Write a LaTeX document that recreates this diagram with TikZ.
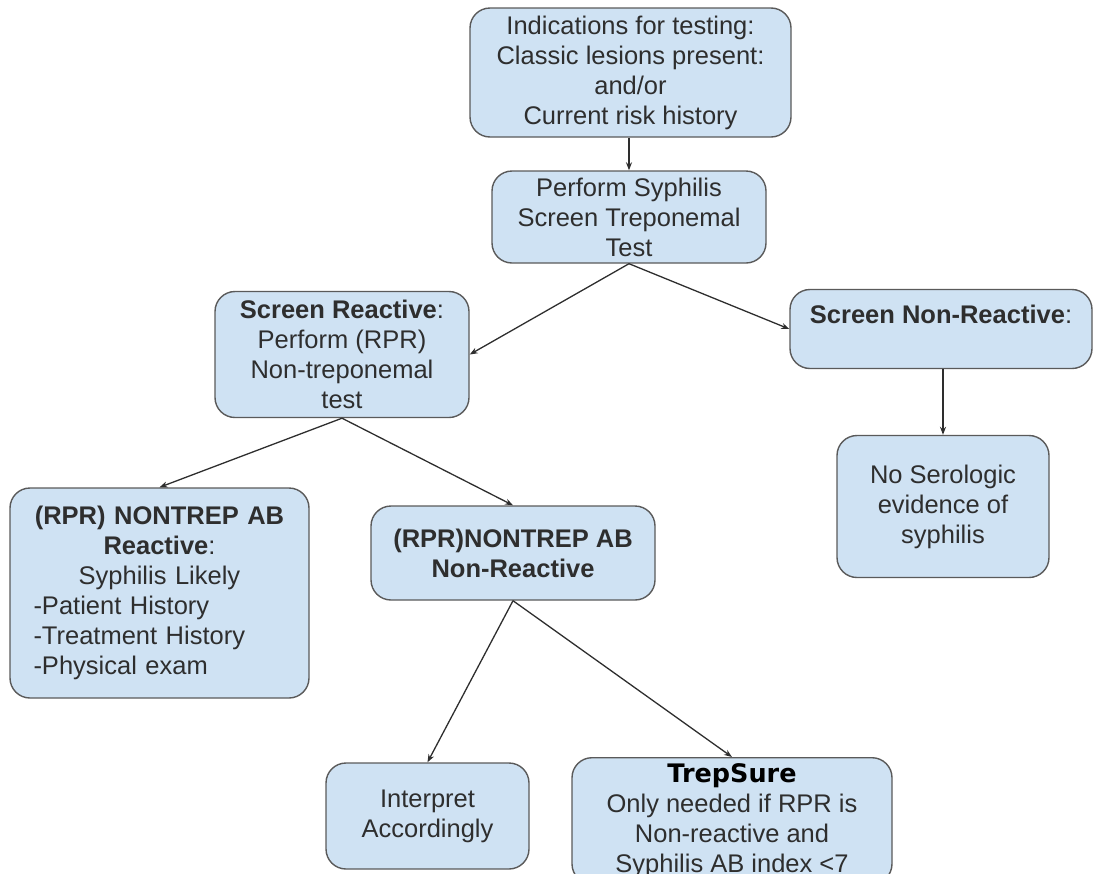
\documentclass[tikz,border=0pt]{standalone}
\usepackage{fontspec}
\setmainfont{Liberation Sans}
\newfontfamily\trepfont{DejaVu Sans}
\usepackage{xcolor}
\usepackage{tikz}
\usetikzlibrary{arrows.meta}
\definecolor{cardfill}{HTML}{CFE2F3}
\definecolor{cardline}{HTML}{5A5A5A}
\definecolor{ink}    {HTML}{2E2E2E}

\begin{document}
\begin{tikzpicture}[
  x=1pt, y=-1pt,
  % one pixel of the sheet is one point here, so the boxes are sized in pixels
  card/.style={
    draw=cardline, fill=cardfill, rounded corners=20pt, line width=1.4pt,
    align=center, text=ink, inner sep=0pt,
    font=\fontsize{25.5}{30}\selectfont
  },
  flow/.style={-{Stealth[length=8pt,width=6pt]}, line width=1.3pt, draw=ink}
]
\clip (0,0) rectangle (1095,873);

% --- screening column --------------------------------------------------------
\node[card, minimum width=321pt, minimum height=129pt] (ind) at (630.5,72.5)
  {Indications for testing:\\ Classic lesions present:\\ and/or\\ Current risk history};
\node[card, minimum width=274pt, minimum height=92pt] (perf) at (629,217)
  {Perform Syphilis\\ Screen Treponemal\\ Test};

% --- screen results ----------------------------------------------------------
\node[card, minimum width=254pt, minimum height=126pt] (sr) at (342,354.5)
  {\textbf{Screen Reactive}:\\ Perform (RPR)\\ Non-treponemal\\ test};
\node[card, minimum width=302pt, minimum height=79pt] (snr) at (941,329)
  {\textbf{Screen Non-Reactive}:\\ \mbox{}};
\node[card, minimum width=212pt, minimum height=142pt] (nose) at (943,506.5)
  {No Serologic\\ evidence of\\ syphilis};

% --- RPR results -------------------------------------------------------------
\node[card, minimum width=299pt, minimum height=210pt, text width=252pt,
      align=left] (rprr) at (159.5,593)
  {\makebox[\linewidth]{\textbf{(RPR) NONTREP AB}}\\
   \makebox[\linewidth]{\textbf{Reactive}:}\\
   \makebox[\linewidth]{Syphilis Likely}\\
   -Patient History\\ -Treatment History\\ -Physical exam};
\node[card, minimum width=284pt, minimum height=94pt] (rprn) at (513,553)
  {\textbf{(RPR)NONTREP AB}\\ \textbf{Non-Reactive}};

% --- follow-up ---------------------------------------------------------------
\node[card, minimum width=203pt, minimum height=106pt] (interp) at (427.5,816)
  {Interpret\\ Accordingly};
\node[card, minimum width=320pt, anchor=north, inner ysep=6pt] (trep) at (732,757)
  {{\trepfont\bfseries\color{black}TrepSure}\\ Only needed if RPR is\\
   Non-reactive and\\ Syphilis AB index <7};

% --- connectors --------------------------------------------------------------
\draw[flow] (ind.south -| perf.north) -- (perf.north);
\draw[flow] (perf.south) -- (sr.east);
\draw[flow] (perf.south) -- (snr.west);
\draw[flow] (snr.south -| nose.north) -- (nose.north);
\draw[flow] (sr.south)   -- (rprr.north);
\draw[flow] (sr.south)   -- (rprn.north);
\draw[flow] (rprn.south) -- (interp.north);
\draw[flow] (rprn.south) -- (trep.north);

\end{tikzpicture}
\end{document}
